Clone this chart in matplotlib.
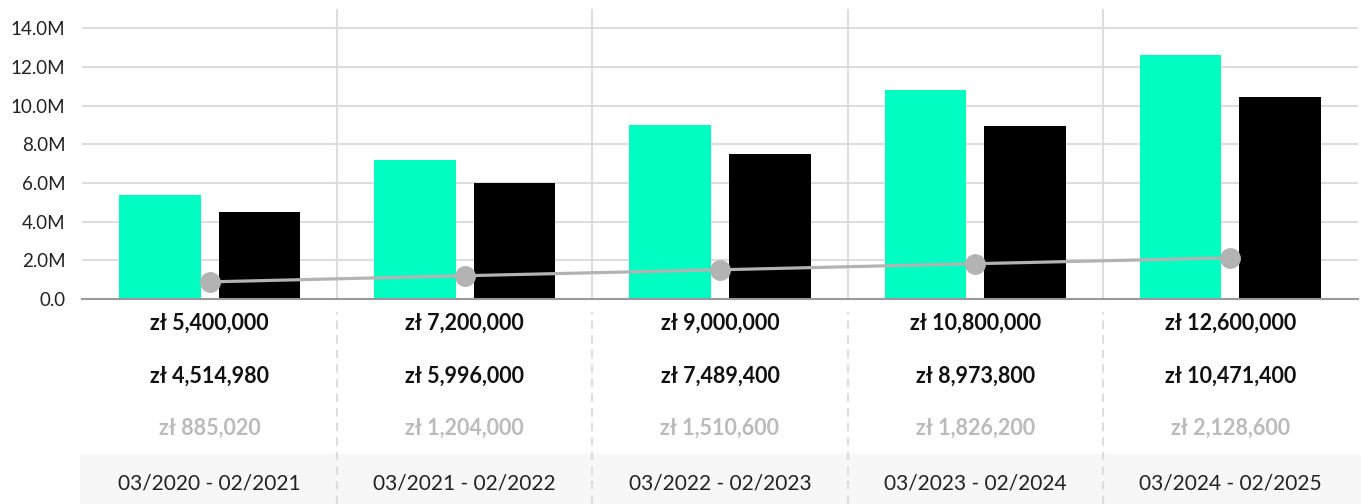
import numpy as np
import matplotlib.pyplot as plt
import matplotlib.transforms as mtransforms
from matplotlib.patches import Rectangle

plt.rcParams['font.family'] = ['Lato', 'DejaVu Sans']

# data
periods = ['03/2020 - 02/2021', '03/2021 - 02/2022', '03/2022 - 02/2023',
           '03/2023 - 02/2024', '03/2024 - 02/2025']
revenue = [5400000, 7200000, 9000000, 10800000, 12600000]
costs = [4514980, 5996000, 7489400, 8973800, 10471400]
profit = [885020, 1204000, 1510600, 1826200, 2128600]
yticks = [0, 2e6, 4e6, 6e6, 8e6, 10e6, 12e6, 14e6]
ytick_labels = ['0.0', '2.0M', '4.0M', '6.0M', '8.0M', '10.0M', '12.0M', '14.0M']

green = '#00fdc2'
grid_c = '#dddddd'
line_c = '#b3b3b3'

W, H = 1361, 504
fig = plt.figure(figsize=(W / 100, H / 100), dpi=100)
ax = fig.add_axes([82 / W, (H - 299) / H, (1358 - 82) / W, (299 - 9) / H])

x = np.arange(len(periods))
bw = 0.32
ax.bar(x - 0.195, revenue, bw, color=green, zorder=2)
ax.bar(x + 0.195, costs, bw, color='black', zorder=2)
ax.plot(x, profit, color=line_c, lw=2.3, marker='o', ms=14, zorder=3)

ax.set_xlim(-0.5, len(periods) - 0.5)
ax.set_ylim(0, 15.0e6)
ax.set_yticks(yticks)
ax.set_yticklabels(ytick_labels, fontsize=13.5, color='#222222')
ax.set_xticks([])
ax.tick_params(axis='y', length=0, pad=12)
for yv in yticks[1:]:
    ax.axhline(yv, color=grid_c, lw=1.5, zorder=0)
for xv in x[:-1] + 0.5:
    ax.axvline(xv, color=grid_c, lw=1.5, zorder=0)
for s in ['top', 'right', 'left']:
    ax.spines[s].set_visible(False)
ax.spines['bottom'].set_color('#999999')
ax.spines['bottom'].set_linewidth(1.5)

# table below the chart
trans = mtransforms.blended_transform_factory(ax.transData, fig.transFigure)
ax.add_patch(Rectangle((80 / W, 0), 1 - 80 / W, 50 / H, transform=fig.transFigure,
                       color='#f7f7f7', zorder=0, clip_on=False))
for xv in x[:-1] + 0.5:
    ax.plot([xv, xv], [0, (H - 312) / H], transform=trans, color=grid_c,
            lw=1.5, ls=(0, (4, 3)), clip_on=False, zorder=1)

rows = [(revenue, 323, 'bold', '#111111'),
        (costs, 376, 'bold', '#111111'),
        (profit, 428, 'bold', '#bbbbbb')]
for vals, ypx, wt, col in rows:
    for xi, v in zip(x, vals):
        ax.text(xi, (H - ypx) / H, f'zł {v:,}', transform=trans, ha='center',
                va='center', fontsize=15.5, fontweight=wt, color=col)
for xi, p in zip(x, periods):
    ax.text(xi, (H - 483) / H, p, transform=trans, ha='center', va='center',
            fontsize=15, color='#222222', zorder=3)

fig.savefig('out.png', dpi=100)
